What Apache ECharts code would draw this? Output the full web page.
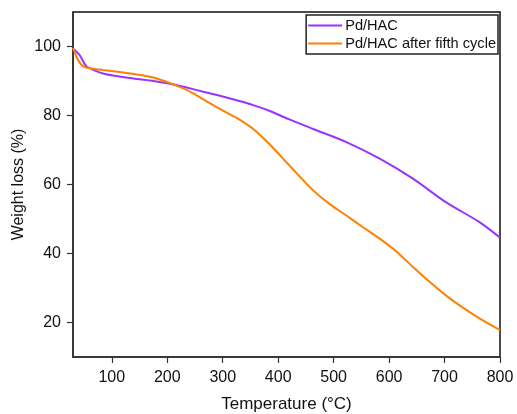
<!DOCTYPE html>
<html>
<head>
<meta charset="utf-8">
<script src="https://cdn.jsdelivr.net/npm/echarts@6/dist/echarts.min.js"></script>
<style>html,body{margin:0;padding:0;background:#fff}#c{width:517px;height:414px}</style>
</head>
<body>
<div id="c"></div>
<script>
const seriesNames = ['Pd/HAC', 'Pd/HAC after fifth cycle'];
const tempA = [30, 42, 54, 70, 84, 114, 145, 175, 205, 235, 265, 295, 325, 355, 385, 418, 463, 523, 583, 643, 703, 763, 800];
const weightA = [99.4, 97.5, 94.3, 93.0, 92.2, 91.3, 90.6, 90.0, 89.2, 88.1, 86.9, 85.7, 84.4, 83.0, 81.3, 79.0, 76.1, 72.3, 67.5, 61.7, 54.8, 49.1, 44.6];
const tempB = [30, 39, 48, 60, 84, 114, 145, 175, 205, 235, 265, 295, 325, 355, 385, 418, 433, 463, 493, 523, 553, 583, 613, 643, 673, 703, 733, 763, 800];
const weightB = [99.6, 96.1, 94.3, 93.7, 93.2, 92.6, 91.9, 91.0, 89.4, 87.4, 84.7, 81.9, 79.3, 76.1, 71.6, 65.9, 63.3, 58.3, 54.3, 51.0, 47.6, 44.3, 40.6, 36.1, 31.8, 27.8, 24.3, 21.2, 17.8];
const xTicks = [100, 200, 300, 400, 500, 600, 700, 800];
const yTicks = [20, 40, 60, 80, 100];

const font = 'Liberation Sans, Arial, sans-serif';
const chart = echarts.init(document.getElementById('c'), null, {renderer: 'canvas'});
const zip = (a, b) => a.map((v, i) => [v, b[i]]);
chart.setOption({
  animation: false,
  backgroundColor: '#fff',
  grid: {left: 73, right: 17, top: 12, bottom: 57, show: true, borderColor: '#111', borderWidth: 1.5,
    outerBoundsMode: 'none', containLabel: false},
  legend: {
    right: 19, top: 15, orient: 'vertical', itemGap: 3,
    borderColor: '#222', borderWidth: 1.5, padding: [3, 2, 3, 2],
    backgroundColor: '#fff',
    icon: 'rect', itemWidth: 34, itemHeight: 2,
    textStyle: {fontFamily: font, fontSize: 14.6, color: '#111', padding: [0, 0, 0, -2]},
    data: seriesNames
  },
  xAxis: {
    type: 'value', min: 30, max: 800,
    name: 'Temperature (°C)', nameLocation: 'middle', nameGap: 39, nameMoveOverlap: false,
    nameTextStyle: {fontFamily: font, fontSize: 17, color: '#111'},
    axisLine: {show: true, lineStyle: {color: '#333', width: 1.5}},
    axisTick: {show: true, length: 6, lineStyle: {color: '#333', width: 1.2},
      customValues: xTicks},
    axisLabel: {fontFamily: font, fontSize: 16, color: '#111', margin: 13,
      customValues: xTicks},
    splitLine: {show: false}
  },
  yAxis: {
    type: 'value', min: 10, max: 110,
    name: 'Weight loss (%)', nameLocation: 'middle', nameGap: 46, nameMoveOverlap: false,
    nameTextStyle: {fontFamily: font, fontSize: 16, color: '#111'},
    axisLine: {show: true, lineStyle: {color: '#333', width: 1.5}},
    axisTick: {show: true, length: 6, lineStyle: {color: '#333', width: 1.2},
      customValues: yTicks},
    axisLabel: {fontFamily: font, fontSize: 16, color: '#111', margin: 12,
      customValues: yTicks},
    splitLine: {show: false}
  },
  series: [
    {name: seriesNames[0], type: 'line', data: zip(tempA, weightA), smooth: 0.3, showSymbol: false,
     color: '#9933FF', lineStyle: {width: 2}},
    {name: seriesNames[1], type: 'line', data: zip(tempB, weightB), smooth: 0.3, showSymbol: false,
     color: '#FF8000', lineStyle: {width: 2}}
  ]
});
</script>
</body>
</html>
